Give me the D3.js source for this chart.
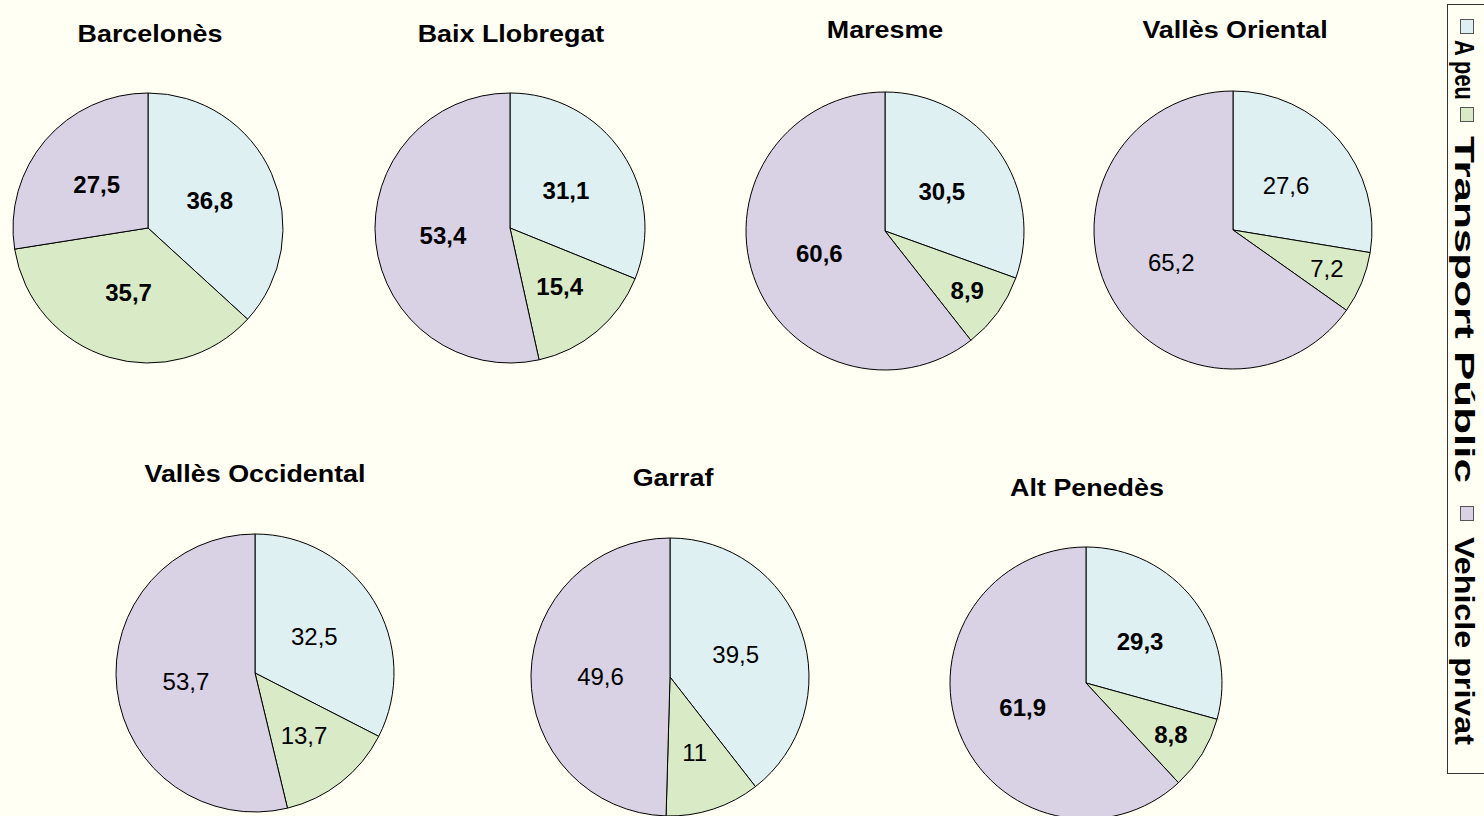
<!DOCTYPE html>
<html>
<head>
<meta charset="utf-8">
<script src="https://cdn.jsdelivr.net/npm/d3@7"></script>
<style>
    body { margin: 0; background: #fffff3; }
    svg { display: block; font-family: Arial, "Liberation Sans", sans-serif; }
</style>
</head>
<body>
<div id="chart"></div>
<script>
// comarques and modes of transport
const comarques = ["Barcelonès", "Baix Llobregat", "Maresme", "Vallès Oriental",
    "Vallès Occidental", "Garraf", "Alt Penedès"];
const modes = ["A peu", "Transport Públic", "Vehicle privat"];

// percentages per comarca
const aPeu = [36.8, 31.1, 30.5, 27.6, 32.5, 39.5, 29.3];
const transportPublic = [35.7, 15.4, 8.9, 7.2, 13.7, 11, 8.8];
const vehiclePrivat = [27.5, 53.4, 60.6, 65.2, 53.7, 49.6, 61.9];

// which pies have bold value labels
const boldLabels = [true, true, true, false, false, false, true];

const colors = ["#dff0f2", "#d8ebc6", "#d9d2e5"];

// where each pie sits on the page
const layout = [
    { cx: 148, cy: 228, r: 135, tx: 150, ty: 42 },
    { cx: 510, cy: 228, r: 135, tx: 511, ty: 42 },
    { cx: 885, cy: 231, r: 139, tx: 885, ty: 38 },
    { cx: 1233, cy: 230, r: 139, tx: 1235, ty: 38 },
    { cx: 255, cy: 673, r: 139, tx: 255, ty: 482 },
    { cx: 670, cy: 677, r: 139, tx: 673, ty: 486 },
    { cx: 1086, cy: 683, r: 136, tx: 1087, ty: 496 }
];

const width = 1484, height = 816;

const svg = d3.select("#chart").append("svg")
    .attr("width", width)
    .attr("height", height);

const color = d3.scaleOrdinal().domain(modes).range(colors);

const pie = d3.pie()
    .sort(null)
    .value(d => d.value);

// small slices get their label pushed out toward the rim
function labelFrac(v) {
    if (v < 10) return 0.73;
    if (v < 16) return 0.57;
    return 0.5;
}

comarques.forEach((name, i) => {
    const L = layout[i];
    const values = [aPeu[i], transportPublic[i], vehiclePrivat[i]];
    const data = modes.map((m, j) => ({ mode: m, value: values[j] }));
    const arcs = pie(data);
    const arc = d3.arc().innerRadius(0).outerRadius(L.r);

    // titles look a bit wider than plain Arial, so stretch them
    svg.append("text")
        .attr("transform", `translate(${L.tx},${L.ty}) scale(1.12,1)`)
        .attr("text-anchor", "middle")
        .attr("font-size", "24px")
        .attr("font-weight", "bold")
        .attr("fill", "#000")
        .text(name);

    const g = svg.append("g")
        .attr("transform", `translate(${L.cx},${L.cy})`);

    g.selectAll("path")
        .data(arcs)
        .enter()
        .append("path")
        .attr("d", arc)
        .attr("fill", d => color(d.data.mode))
        .attr("stroke", "#000")
        .attr("stroke-width", 1);

    g.selectAll("text")
        .data(arcs)
        .enter()
        .append("text")
        .attr("transform", d => {
            const a = (d.startAngle + d.endAngle) / 2;
            const rr = L.r * labelFrac(d.data.value);
            return `translate(${Math.sin(a) * rr},${-Math.cos(a) * rr})`;
        })
        .attr("text-anchor", "middle")
        .attr("dy", "0.36em")
        .attr("font-size", "24px")
        .attr("font-weight", boldLabels[i] ? "bold" : "normal")
        .attr("fill", "#000")
        .text(d => String(d.data.value).replace(".", ","));
});

// legend, rotated and clipped at the right edge
const legend = svg.append("g");

legend.append("rect")
    .attr("x", 1447.5)
    .attr("y", 4.5)
    .attr("width", 60)
    .attr("height", 769)
    .attr("fill", "none")
    .attr("stroke", "#333")
    .attr("stroke-width", 1);

const legendSquareY = [19, 107, 506];
const legendTextY = [40, 136, 537];
const legendTextLen = [60, 347, 208];

modes.forEach((m, j) => {
    legend.append("rect")
        .attr("x", 1460.5)
        .attr("y", legendSquareY[j] + 0.5)
        .attr("width", 13)
        .attr("height", 14)
        .attr("fill", colors[j])
        .attr("stroke", "#555");

    legend.append("text")
        .attr("transform", `translate(1455,${legendTextY[j]}) rotate(90)`)
        .attr("font-size", "28px")
        .attr("font-weight", "bold")
        .attr("fill", "#000")
        .attr("textLength", legendTextLen[j])
        .attr("lengthAdjust", "spacingAndGlyphs")
        .text(m);
});
</script>
</body>
</html>
